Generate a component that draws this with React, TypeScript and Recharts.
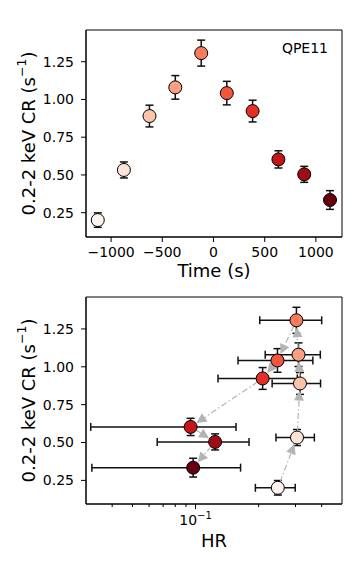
import React from 'react';
import { ScatterChart, Scatter, XAxis, YAxis, ErrorBar, ReferenceLine, ReferenceArea, Label } from 'recharts';

// light curve of the flare, colour runs with time
const times = [-1130, -875, -625, -373, -120, 130, 382, 634, 886, 1138];
const rates = [0.201, 0.533, 0.89, 1.08, 1.307, 1.042, 0.923, 0.603, 0.504, 0.334];
const rateErrs = [0.048, 0.053, 0.072, 0.078, 0.086, 0.078, 0.072, 0.057, 0.053, 0.062];

// hardness ratio with its lower / upper bounds
const hr = [0.247, 0.305, 0.315, 0.31, 0.303, 0.246, 0.209, 0.0947, 0.124, 0.0974];
const hrLow = [0.193, 0.242, 0.232, 0.215, 0.2025, 0.1595, 0.128, 0.0316, 0.0656, 0.032];
const hrHigh = [0.299, 0.369, 0.395, 0.394, 0.4, 0.363, 0.306, 0.156, 0.18, 0.164];

const colors = ['#fff5f0', '#fee3d6', '#fcc3ab', '#fc9f81', '#fb7c5c', '#f6553d', '#e32f27', '#c3161b', '#9e0d14', '#67000d'];

const timeTicks = [-1000, -500, 0, 500, 1000];
const rateTicks = [0.25, 0.5, 0.75, 1.0, 1.25];
const hrTicks = [0.04, 0.05, 0.06, 0.07, 0.08, 0.09, 0.1, 0.2, 0.3, 0.4];
const hrMajor = [0.1];

const timeDomain = [-1245, 1255];
const rateDomainTop = [0.089, 1.46];
const hrDomain = [0.03, 0.5];
const rateDomainBottom = [0.094, 1.461];

const FONT = 'DejaVu Sans';

const points = times.map((t, i) => ({
  t,
  rate: rates[i],
  rateErr: rateErrs[i],
  hr: hr[i],
  hrErr: [hr[i] - hrLow[i], hrHigh[i] - hr[i]],
  color: colors[i],
}));

const arrows = points.slice(1).map((p, i) => ({ from: points[i], to: p }));

const Dot = (props: any) => {
  const { cx, cy, payload } = props;
  if (cx == null || cy == null) return <g />;
  return <circle cx={cx} cy={cy} r={6.5} fill={payload.color} stroke="#000" strokeWidth={1} />;
};

const Empty = () => <g />;

const Arrow = (props: any) => {
  const { x1, y1, x2, y2 } = props;
  if ([x1, y1, x2, y2].some((v) => v == null || isNaN(v))) return <g />;
  const dx = x2 - x1;
  const dy = y2 - y1;
  const len = Math.hypot(dx, dy);
  const ux = dx / len;
  const uy = dy / len;
  const sx = x1 + ux * 6;
  const sy = y1 + uy * 6;
  const tx = x2 - ux * 7;
  const ty = y2 - uy * 7;
  const bx = tx - ux * 10;
  const by = ty - uy * 10;
  const head = `${tx},${ty} ${bx - uy * 5},${by + ux * 5} ${bx + uy * 5},${by - ux * 5}`;
  return (
    <g>
      <line x1={sx} y1={sy} x2={bx} y2={by} stroke="#b3b3b3" strokeWidth={1.2} strokeDasharray="6 2.5 1.5 2.5" />
      <polygon points={head} fill="#b3b3b3" />
    </g>
  );
};

const yLabel = (props: any) => {
  const vb = props.viewBox || {};
  const cx = 28;
  const cy = vb.y + vb.height / 2;
  return (
    <text x={cx} y={cy} transform={`rotate(-90, ${cx}, ${cy})`} textAnchor="middle" dominantBaseline="central" fontSize={18} fontFamily={FONT} fill="#000">
      0.2-2 keV CR (s<tspan dy={-7} fontSize={12.5}>−1</tspan>
      <tspan dy={7}>)</tspan>
    </text>
  );
};

const xLabel = (text: string, dy: number) => (props: any) => {
  const vb = props.viewBox || {};
  return (
    <text x={vb.x + vb.width / 2} y={vb.y + dy} textAnchor="middle" fontSize={18} fontFamily={FONT} fill="#000">
      {text}
    </text>
  );
};

const HrTick = (props: any) => {
  const { x, y, payload } = props;
  const major = hrMajor.includes(payload.value);
  return (
    <g>
      <line x1={x} y1={y} x2={x} y2={y + (major ? 5 : 3)} stroke="#000" strokeWidth={1} />
      {major && (
        <text x={x} y={y + 21} textAnchor="middle" fontSize={14} fontFamily={FONT} fill="#000">
          10<tspan dy={-6} fontSize={10}>−1</tspan>
        </text>
      )}
    </g>
  );
};

const tickStyle = { fontSize: 14, fontFamily: FONT, fill: '#000' };
const axisLine = { stroke: '#000', strokeWidth: 1 };

const fmtTime = (v: number) => (v < 0 ? `−${Math.abs(v)}` : `${v}`);

export default function App() {
  return (
    <div style={{ position: 'absolute', left: 0, top: 0, width: 355, height: 568, background: '#fff' }}>
      <div style={{ position: 'absolute', left: 0, top: 0 }}>
        <ScatterChart width={355} height={280} margin={{ top: 30, right: 13, bottom: 0, left: 26 }}>
          <XAxis
            dataKey="t"
            type="number"
            domain={timeDomain}
            ticks={timeTicks}
            tickFormatter={fmtTime}
            allowDataOverflow
            height={43}
            tick={tickStyle}
            tickSize={5}
            tickMargin={5}
            axisLine={axisLine}
            tickLine={axisLine}
            interval={0}
          >
            <Label content={xLabel('Time (s)', 40)} />
          </XAxis>
          <YAxis
            dataKey="rate"
            type="number"
            domain={rateDomainTop}
            ticks={rateTicks}
            tickFormatter={(v: number) => v.toFixed(2)}
            allowDataOverflow
            width={60}
            tick={tickStyle}
            tickSize={5}
            tickMargin={7}
            axisLine={axisLine}
            tickLine={axisLine}
            interval={0}
          >
            <Label content={yLabel} />
          </YAxis>
          <ReferenceArea
            x1={timeDomain[0]}
            x2={timeDomain[1]}
            y1={rateDomainTop[0]}
            y2={rateDomainTop[1]}
            fill="none"
            fillOpacity={0}
            stroke="#000"
            strokeWidth={1}
            ifOverflow="visible"
          />
          <Scatter data={points} shape={Empty} isAnimationActive={false}>
            <ErrorBar dataKey="rateErr" direction="y" width={4} stroke="#111" strokeWidth={1.5} isAnimationActive={false} />
          </Scatter>
          <Scatter data={points} shape={Dot} isAnimationActive={false} />
        </ScatterChart>
        <svg width={355} height={60} style={{ position: 'absolute', left: 0, top: 0, pointerEvents: 'none' }}>
          <text x={328} y={53} textAnchor="end" fontSize={14} fontFamily={FONT} fill="#000">QPE11</text>
        </svg>
      </div>
      <div style={{ position: 'absolute', left: 0, top: 280 }}>
        <ScatterChart width={355} height={288} margin={{ top: 17, right: 13, bottom: 0, left: 26 }}>
          <XAxis
            dataKey="hr"
            type="number"
            scale="log"
            domain={hrDomain}
            ticks={hrTicks}
            allowDataOverflow
            height={64}
            tick={<HrTick />}
            tickSize={0}
            tickMargin={0}
            tickLine={false}
            axisLine={axisLine}
            interval={0}
          >
            <Label content={xLabel('HR', 43)} />
          </XAxis>
          <YAxis
            dataKey="rate"
            type="number"
            domain={rateDomainBottom}
            ticks={rateTicks}
            tickFormatter={(v: number) => v.toFixed(2)}
            allowDataOverflow
            width={60}
            tick={tickStyle}
            tickSize={5}
            tickMargin={7}
            axisLine={axisLine}
            tickLine={axisLine}
            interval={0}
          >
            <Label content={yLabel} />
          </YAxis>
          <ReferenceArea
            x1={hrDomain[0]}
            x2={hrDomain[1]}
            y1={rateDomainBottom[0]}
            y2={rateDomainBottom[1]}
            fill="none"
            fillOpacity={0}
            stroke="#000"
            strokeWidth={1}
            ifOverflow="visible"
          />
          <Scatter data={points} shape={Dot} isAnimationActive={false} />
          <Scatter data={points} shape={Empty} isAnimationActive={false}>
            <ErrorBar dataKey="rateErr" direction="y" width={4} stroke="#111" strokeWidth={1.5} isAnimationActive={false} />
            <ErrorBar dataKey="hrErr" direction="x" width={4} stroke="#111" strokeWidth={1.5} isAnimationActive={false} />
          </Scatter>
          {arrows.map((a, i) => (
            <ReferenceLine
              key={i}
              segment={[{ x: a.from.hr, y: a.from.rate }, { x: a.to.hr, y: a.to.rate }]}
              ifOverflow="visible"
              shape={Arrow}
            />
          ))}
        </ScatterChart>
      </div>
    </div>
  );
}
